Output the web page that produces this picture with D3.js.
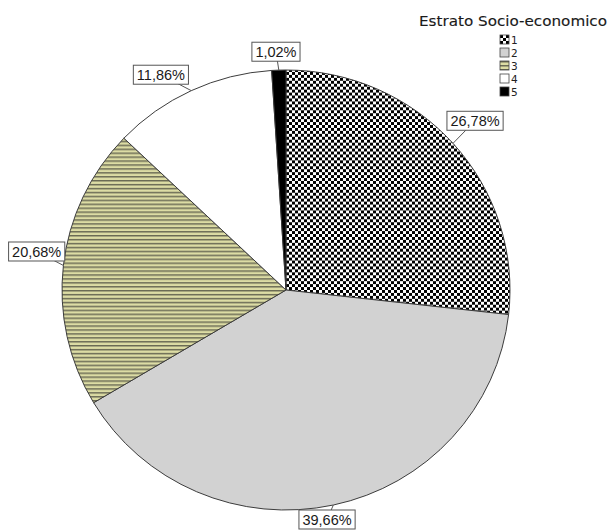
<!DOCTYPE html>
<html><head><meta charset="utf-8">
<script src="https://cdn.jsdelivr.net/npm/d3@7/dist/d3.min.js"></script>
<style>body{margin:0;background:#fff}svg{display:block}</style>
</head><body><svg id="chart" width="610" height="531"></svg>
<script>
// ---- data ----
const categories = ["1", "2", "3", "4", "5"];
const values = [26.78, 39.66, 20.68, 11.86, 1.02];
const valueLabels = ["26,78%", "39,66%", "20,68%", "11,86%", "1,02%"];
const legendTitle = "Estrato Socio-economico";

// ---- layout ----
const W = 610, H = 531;
const cx = 286, cy = 290, rx = 224, ry = 220;
const labelRadiusFactor = 1.12;
const labelNudge = [[2, -5], [-12, 0], [0, -11], [-19, 8], [-2, 8]];

const svg = d3.select("#chart");
svg.append("rect").attr("width", W).attr("height", H).attr("fill", "#fff");

const defs = svg.append("defs");
const cs = 3;
const checker = defs.append("pattern").attr("id", "p1").attr("patternUnits", "userSpaceOnUse")
  .attr("width", cs * 2).attr("height", cs * 2);
checker.append("rect").attr("width", cs * 2).attr("height", cs * 2).attr("fill", "#fff");
checker.append("rect").attr("width", cs).attr("height", cs).attr("fill", "#000");
checker.append("rect").attr("x", cs).attr("y", cs).attr("width", cs).attr("height", cs).attr("fill", "#000");

const stripes = defs.append("pattern").attr("id", "p3").attr("patternUnits", "userSpaceOnUse")
  .attr("width", 4).attr("height", 4);
stripes.append("rect").attr("width", 4).attr("height", 4).attr("fill", "#dcdca4");
stripes.append("rect").attr("y", 0).attr("width", 4).attr("height", 1.5).attr("fill", "#6a6a55");

const fills = ["url(#p1)", "#d2d2d2", "url(#p3)", "#ffffff", "#000000"];
const color = d3.scaleOrdinal().domain(categories).range(fills);

const data = categories.map((c, i) => ({ cat: c, value: values[i], label: valueLabels[i], i }));
const pie = d3.pie().sort(null).value(d => d.value);
const arcs = pie(data);
const arc = d3.arc().innerRadius(0).outerRadius(rx);

const g = svg.append("g").attr("transform", `translate(${cx},${cy}) scale(1,${ry / rx})`);
g.selectAll("path").data(arcs).join("path")
  .attr("d", arc)
  .attr("fill", d => color(d.data.cat))
  .attr("stroke", "#3a3a3a").attr("stroke-width", 1);

// labels
const labelG = svg.append("g");
const fontSize = 14.5;
arcs.forEach((a, i) => {
  const mid = (a.startAngle + a.endAngle) / 2;
  const ex = cx + rx * Math.sin(mid), ey = cy - ry * Math.cos(mid);
  let bx = cx + rx * labelRadiusFactor * Math.sin(mid) + labelNudge[i][0];
  let by = cy - ry * labelRadiusFactor * Math.cos(mid) + labelNudge[i][1];
  const t = labelG.append("text").text(a.data.label)
    .attr("font-family", "Liberation Sans, Arial, sans-serif")
    .attr("font-size", fontSize).attr("fill", "#1a1a1a")
    .attr("text-anchor", "middle");
  const tw = t.node().getComputedTextLength();
  const bw = tw + 7, bh = 19;
  by = Math.min(by, H - bh / 2 - 2);
  labelG.insert("line", "text").attr("x1", ex).attr("y1", ey).attr("x2", bx).attr("y2", by)
    .attr("stroke", "#555").attr("stroke-width", 1);
  labelG.insert("rect", "text").attr("x", bx - bw / 2).attr("y", by - bh / 2)
    .attr("width", bw).attr("height", bh)
    .attr("fill", "#fff").attr("stroke", "#555").attr("stroke-width", 1);
  t.attr("x", bx).attr("y", by + fontSize * 0.36);
});

// legend
svg.append("text").text(legendTitle)
  .attr("x", 607).attr("y", 26).attr("text-anchor", "end")
  .attr("font-family", "DejaVu Sans, sans-serif").attr("font-size", 13.5)
  .attr("textLength", 188).attr("lengthAdjust", "spacingAndGlyphs")
  .attr("fill", "#1a1a1a").attr("stroke", "#1a1a1a").attr("stroke-width", 0.12);
const leg = svg.append("g").attr("transform", "translate(500,35)");
const rowH = 13;
const items = leg.selectAll("g").data(categories).join("g")
  .attr("transform", (d, i) => `translate(0,${i * rowH})`);
items.append("rect").attr("width", 9).attr("height", 9)
  .attr("fill", d => color(d)).attr("stroke", "#444").attr("stroke-width", 0.8);
items.append("text").text(d => d).attr("x", 11).attr("y", 8.5)
  .attr("font-family", "DejaVu Sans, sans-serif").attr("font-size", 10.5).attr("fill", "#222");
</script></body></html>
